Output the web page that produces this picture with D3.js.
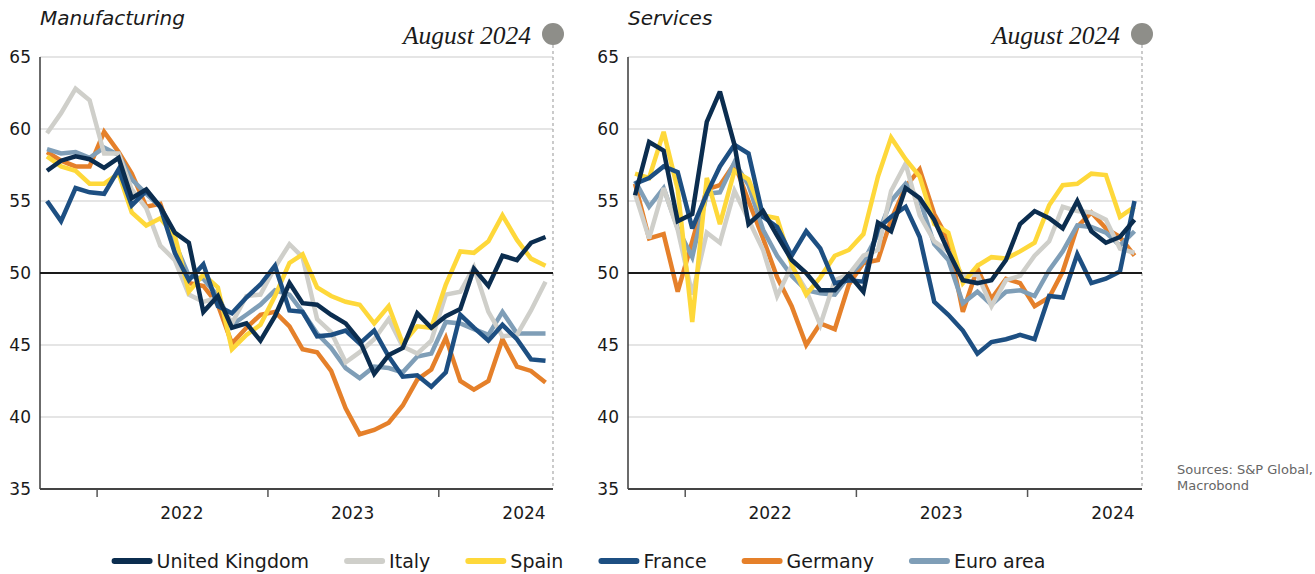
<!DOCTYPE html>
<html><head><meta charset="utf-8">
<script src="https://cdn.jsdelivr.net/npm/d3@7"></script>
<style>body{margin:0;background:#fff;} svg{display:block;}</style>
</head><body><svg id="c" width="1315" height="574"></svg>
<script>
// ---- DATA ----
const months = ["2021-09","2021-10","2021-11","2021-12",
  "2022-01","2022-02","2022-03","2022-04","2022-05","2022-06","2022-07","2022-08","2022-09","2022-10","2022-11","2022-12",
  "2023-01","2023-02","2023-03","2023-04","2023-05","2023-06","2023-07","2023-08","2023-09","2023-10","2023-11","2023-12",
  "2024-01","2024-02","2024-03","2024-04","2024-05","2024-06","2024-07","2024-08"];
const seriesNames = ["United Kingdom","Italy","Spain","France","Germany","Euro area"];
const yTicks = [35,40,45,50,55,60,65];
const yearTicks = ["2022","2023","2024"];
const panelTitles = ["Manufacturing","Services"];
const markerLabel = "August 2024";
const sourceLines = ["Sources: S&P Global,","Macrobond"];

// Manufacturing PMI
const mfgUK      = [57.1,57.8,58.1,57.9,57.3,58.0,55.2,55.8,54.6,52.8,52.1,47.3,48.4,46.2,46.5,45.3,47.0,49.3,47.9,47.8,47.1,46.5,45.3,43.0,44.3,44.8,47.2,46.2,47.0,47.5,50.3,49.1,51.2,50.9,52.1,52.5];
const mfgItaly   = [59.7,61.1,62.8,62.0,58.3,58.3,55.8,54.5,51.9,50.9,48.5,48.0,48.3,46.5,48.4,48.5,50.4,52.0,51.1,46.8,45.9,43.8,44.5,45.4,46.8,44.9,44.4,45.3,48.5,48.7,50.4,47.3,45.6,45.7,47.4,49.4];
const mfgSpain   = [58.1,57.4,57.1,56.2,56.2,56.9,54.2,53.3,53.8,52.6,48.7,49.9,49.0,44.7,45.7,46.4,48.4,50.7,51.3,49.0,48.4,48.0,47.8,46.5,47.7,45.1,46.3,46.2,49.2,51.5,51.4,52.2,54.0,52.3,51.0,50.5];
const mfgFrance  = [55.0,53.6,55.9,55.6,55.5,57.2,54.7,55.7,54.6,51.4,49.5,50.6,47.7,47.2,48.3,49.2,50.5,47.4,47.3,45.6,45.7,46.0,45.1,46.0,44.2,42.8,42.9,42.1,43.1,47.1,46.2,45.3,46.4,45.4,44.0,43.9];
const mfgGermany = [58.4,57.8,57.4,57.4,59.8,58.4,56.9,54.6,54.8,52.0,49.3,49.1,47.8,45.1,46.2,47.1,47.3,46.3,44.7,44.5,43.2,40.6,38.8,39.1,39.6,40.8,42.6,43.3,45.5,42.5,41.9,42.5,45.4,43.5,43.2,42.4];
const mfgEuro    = [58.6,58.3,58.4,58.0,58.7,58.2,56.5,55.5,54.6,52.1,49.8,49.6,48.4,46.4,47.1,47.8,48.8,48.5,47.3,45.8,44.8,43.4,42.7,43.5,43.4,43.1,44.2,44.4,46.6,46.5,46.1,45.7,47.3,45.8,45.8,45.8];

// Services PMI
const svcUK      = [55.4,59.1,58.5,53.6,54.1,60.5,62.6,58.9,53.4,54.3,52.6,50.9,50.0,48.8,48.8,49.9,48.7,53.5,52.9,55.9,55.2,53.7,51.5,49.5,49.3,49.5,50.9,53.4,54.3,53.8,53.1,55.0,52.9,52.1,52.5,53.7];
const svcItaly   = [55.5,52.4,55.9,53.0,48.5,52.8,52.1,55.7,53.7,51.6,48.4,50.5,48.8,46.4,49.5,49.9,51.2,51.6,55.7,57.6,54.0,52.2,51.5,49.8,49.9,47.7,49.5,49.8,51.2,52.2,54.6,54.3,54.2,53.7,51.7,51.4];
const svcSpain   = [56.9,56.6,59.8,55.8,46.6,56.6,53.4,57.1,56.5,54.0,53.8,50.6,48.5,49.7,51.2,51.6,52.7,56.7,59.4,57.9,56.7,53.4,52.8,49.3,50.5,51.1,51.0,51.5,52.1,54.7,56.1,56.2,56.9,56.8,53.9,54.6];
const svcFrance  = [56.2,56.6,57.4,57.0,53.1,55.5,57.4,58.9,58.3,53.9,53.2,51.2,52.9,51.7,49.3,49.5,49.4,53.1,53.9,54.6,52.5,48.0,47.1,46.0,44.4,45.2,45.4,45.7,45.4,48.4,48.3,51.3,49.3,49.6,50.1,55.0];
const svcGermany = [56.2,52.4,52.7,48.7,52.2,55.8,56.1,57.6,55.0,52.4,49.7,47.7,45.0,46.5,46.1,49.2,50.7,50.9,53.7,56.0,57.2,54.1,52.3,47.3,50.3,48.2,49.6,49.3,47.7,48.3,50.1,53.2,54.2,53.1,52.5,51.2];
const svcEuro    = [56.4,54.6,55.9,53.1,51.1,55.5,55.6,57.7,56.1,53.0,51.2,49.8,48.8,48.6,48.5,49.8,50.8,52.7,55.0,56.2,55.1,52.0,50.9,47.9,48.7,47.8,48.7,48.8,48.4,50.2,51.5,53.3,53.2,52.8,51.9,52.9];

// ---- STYLE ----
const colors = {"United Kingdom":"#0b2d4f","Italy":"#cfcfca","Spain":"#fed83a","France":"#1d4f82","Germany":"#e5802a","Euro area":"#7f9eb7"};
const drawOrder = ["Germany","Euro area","Italy","Spain","France","United Kingdom"];
const sans = "'DejaVu Sans', 'Open Sans', sans-serif";

const svg = d3.select("#c");
const parse = d3.timeParse("%Y-%m");
const dates = months.map(m => d3.timeDay.offset(parse(m), 15));
const domain = [parse("2021-09"), parse("2024-09")];

const y = d3.scaleLinear().domain([35,65]).range([489,57]);

function drawPanel(x0, x1, title, dataMap){
  const x = d3.scaleTime().domain(domain).range([x0, x1]);
  const g = svg.append("g");
  g.selectAll("line.grid").data(yTicks.filter(t => t !== 35 && t !== 50)).join("line")
    .attr("x1", x0).attr("x2", x1).attr("y1", d => y(d)).attr("y2", d => y(d))
    .attr("stroke", "#dcdcdc").attr("stroke-width", 1.5);
  g.selectAll("text.yl").data(yTicks).join("text")
    .attr("x", x0 - 9).attr("y", d => y(d)).attr("dy", "0.36em")
    .attr("text-anchor", "end").attr("font-family", sans).attr("font-size", 17)
    .attr("fill", "#1a1a1a").text(d => d);
  g.append("line").attr("x1", x1).attr("x2", x1).attr("y1", 45).attr("y2", 489)
    .attr("stroke", "#a8a8a8").attr("stroke-width", 1.2).attr("stroke-dasharray", "3,3");
  g.append("circle").attr("cx", x1).attr("cy", 34).attr("r", 11).attr("fill", "#8e8e89");
  g.append("text").attr("x", x1 - 22).attr("y", 44).attr("text-anchor", "end")
    .attr("font-family", "'Liberation Serif', 'DejaVu Serif', serif").attr("font-style", "italic")
    .attr("font-size", 25).attr("fill", "#1a1a1a")
    .attr("textLength", 128).attr("lengthAdjust", "spacingAndGlyphs").text(markerLabel);
  g.append("text").attr("x", x0).attr("y", 25).attr("font-family", sans).attr("font-style", "italic")
    .attr("font-size", 20).attr("fill", "#1a1a1a").text(title);
  g.append("line").attr("x1", x0).attr("x2", x0).attr("y1", 57).attr("y2", 489)
    .attr("stroke", "#3a3a3a").attr("stroke-width", 1.5);
  const yr = yearTicks.map(s => parse(s + "-01"));
  g.selectAll("line.tk").data(yr).join("line")
    .attr("x1", d => x(d)).attr("x2", d => x(d)).attr("y1", 489).attr("y2", 497)
    .attr("stroke", "#555").attr("stroke-width", 1.5);
  g.selectAll("text.xl").data(yearTicks).join("text")
    .attr("x", d => x(parse(d + "-07"))).attr("y", 519)
    .attr("text-anchor", "middle").attr("font-family", sans).attr("font-size", 17)
    .attr("fill", "#1a1a1a").text(d => d);
  const line = d3.line().x((d,i) => x(dates[i])).y(d => y(d));
  drawOrder.forEach(name => {
    g.append("path").datum(dataMap[name]).attr("d", line)
      .attr("fill", "none").attr("stroke", colors[name]).attr("stroke-width", 4.5)
      .attr("stroke-linejoin", "miter").attr("stroke-miterlimit", 3);
  });
  g.append("line").attr("x1", x0).attr("x2", x1).attr("y1", y(50)).attr("y2", y(50))
    .attr("stroke", "#1a1a1a").attr("stroke-width", 2.2);
  g.append("line").attr("x1", x0).attr("x2", x1).attr("y1", 489).attr("y2", 489)
    .attr("stroke", "#444").attr("stroke-width", 2.2);
}

drawPanel(40, 553, panelTitles[0], {
  "United Kingdom": mfgUK, "Italy": mfgItaly, "Spain": mfgSpain,
  "France": mfgFrance, "Germany": mfgGermany, "Euro area": mfgEuro});
drawPanel(628, 1142, panelTitles[1], {
  "United Kingdom": svcUK, "Italy": svcItaly, "Spain": svcSpain,
  "France": svcFrance, "Germany": svcGermany, "Euro area": svcEuro});

svg.append("g").selectAll("text").data(sourceLines).join("text")
  .attr("x", 1177).attr("y", (d,i) => 474 + i*16)
  .attr("font-family", sans).attr("font-size", 13).attr("fill", "#666").text(d => d);

const lg = svg.append("g");
const items = lg.selectAll("g").data(seriesNames).join("g");
items.append("line").attr("x1", 0).attr("x2", 35).attr("y1", 0).attr("y2", 0)
  .attr("stroke", d => colors[d]).attr("stroke-width", 6).attr("stroke-linecap", "round");
items.append("text").attr("x", 42).attr("y", 0).attr("dy", "0.36em")
  .attr("font-family", sans).attr("font-size", 19).attr("fill", "#1a1a1a").text(d => d);
let cx = 0;
const gap = 38;
items.each(function(){
  const w = 42 + d3.select(this).select("text").node().getComputedTextLength();
  d3.select(this).attr("transform", `translate(${cx},561)`);
  cx += w + gap;
});
const total = cx - gap;
lg.attr("transform", `translate(${113 + (934 - total)/2},0)`);
</script>
</body></html>
